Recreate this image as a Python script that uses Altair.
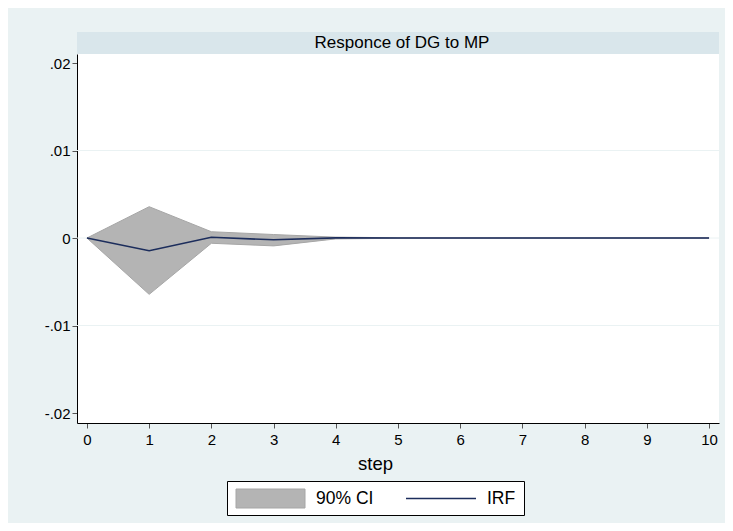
import altair as alt
import pandas as pd

steps = [0, 1, 2, 3, 4, 5, 6, 7, 8, 9, 10]
irf = [0.0, -0.00145, 0.00008, -0.00020, 0.00002, 0.0, 0.0, 0.0, 0.0, 0.0, 0.0]
ci_lower = [0.0, -0.00644, -0.00060, -0.00090, -0.00010, -0.00003, -0.00001, 0.0, 0.0, 0.0, 0.0]
ci_upper = [0.0, 0.00358, 0.00072, 0.00040, 0.00010, 0.00003, 0.00001, 0.0, 0.0, 0.0, 0.0]
y_ticks = [-0.02, -0.01, 0.0, 0.01, 0.02]
grid_values = [-0.01, 0.0, 0.01]
panel_title = "Responce of DG to MP"
legend_labels = ["90% CI", "IRF"]
x_title = "step"

FONT = "Liberation Sans"
BG = "#eaf2f3"
STRIP = "#d9e6eb"
CI_FILL = "#b4b4b4"
CI_STROKE = "#a6a6a6"
LINE = "#1c2d5c"

W, H = 642, 369

df = pd.DataFrame({"step": steps, "irf": irf, "lo": ci_lower, "hi": ci_upper})
grid_df = pd.DataFrame({"g": grid_values})
one = pd.DataFrame({"t": [panel_title]})
leg = pd.DataFrame({"a": legend_labels[:1], "b": legend_labels[1:]})

xscale = alt.Scale(domain=[-0.16, 10.16], nice=False, zero=False)
yscale = alt.Scale(domain=[-0.02114, 0.02103], nice=False, zero=False)

x_axis = alt.Axis(
    values=steps, format="d", title=x_title, grid=False, domainColor="black", domainWidth=1,
    tickColor="#555555", tickSize=5, labelFont=FONT, labelFontSize=15, labelColor="black",
    labelPadding=4, titleFont=FONT, titleFontSize=18.5, titleFontWeight="normal",
    titleColor="black", titleX=298, titleY=46, titleBaseline="alphabetic", titleAlign="center",
)
y_axis = alt.Axis(
    values=y_ticks, title=None, grid=False, domainColor="black", domainWidth=1,
    tickColor="#555555", tickSize=5, labelFont=FONT, labelFontSize=15, labelColor="black",
    labelPadding=2,
    labelExpr="datum.value == 0 ? '0' : (datum.value < 0 ? '-' : '') + replace(format(abs(datum.value), '.2f'), '0.', '.')",
)

base = alt.Chart(df)

strip = alt.Chart(one).mark_rect(color=STRIP).encode(
    x=alt.value(0), x2=alt.value(W), y=alt.value(-22), y2=alt.value(0)
)
strip_text = alt.Chart(one).mark_text(
    font=FONT, fontSize=17, color="black", baseline="middle", align="center"
).encode(x=alt.value(W / 2 + 4), y=alt.value(-11), text="t:N")

grid = alt.Chart(grid_df).mark_rule(color=BG, strokeWidth=1).encode(
    y=alt.Y("g:Q", scale=yscale, axis=y_axis)
)

band = base.mark_area(color=CI_FILL, stroke=CI_STROKE, strokeWidth=1, opacity=1).encode(
    x=alt.X("step:Q", scale=xscale, axis=x_axis),
    y=alt.Y("lo:Q", scale=yscale, axis=y_axis),
    y2="hi:Q",
)
line = base.mark_line(color=LINE, strokeWidth=1.6).encode(
    x=alt.X("step:Q", scale=xscale, axis=x_axis),
    y=alt.Y("irf:Q", scale=yscale, axis=y_axis),
)

# legend box (decoration)
leg_box = alt.Chart(leg).mark_rect(fill="white", stroke="black", strokeWidth=1).encode(
    x=alt.value(150.5), x2=alt.value(447.5), y=alt.value(427.5), y2=alt.value(461.5)
)
leg_swatch = alt.Chart(leg).mark_rect(fill=CI_FILL, stroke=CI_STROKE, strokeWidth=1).encode(
    x=alt.value(159), x2=alt.value(228), y=alt.value(435), y2=alt.value(454)
)
leg_text1 = alt.Chart(leg).mark_text(
    font=FONT, fontSize=17.5, color="black", align="left", baseline="middle"
).encode(x=alt.value(239), y=alt.value(445), text="a:N")
leg_line = alt.Chart(leg).mark_rule(color=LINE, strokeWidth=1.6).encode(
    x=alt.value(329), x2=alt.value(399), y=alt.value(444.5)
)
leg_text2 = alt.Chart(leg).mark_text(
    font=FONT, fontSize=17.5, color="black", align="left", baseline="middle"
).encode(x=alt.value(410), y=alt.value(445), text="b:N")

chart = alt.layer(
    grid, band, line, strip, strip_text, leg_box, leg_swatch, leg_text1, leg_line, leg_text2
).properties(
    width=W, height=H,
    autosize=alt.AutoSizeParams(type="none"),
    padding={"left": 69, "top": 46, "right": 6, "bottom": 100},
    background=BG,
).configure_view(
    fill="white", stroke=None
)

chart.save("out.html", embed_options={"renderer": "svg", "actions": False})
